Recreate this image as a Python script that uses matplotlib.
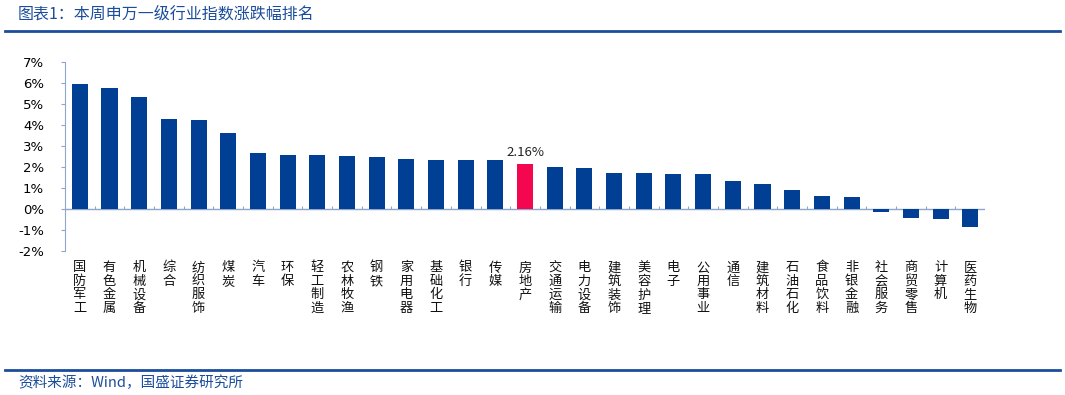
import matplotlib
matplotlib.use("Agg")
import matplotlib.pyplot as plt
from matplotlib.lines import Line2D

plt.rcParams['font.family'] = ['Noto Sans CJK SC', 'DejaVu Sans']

# 申万一级行业本周涨跌幅 (%)
industries = ['国防军工', '有色金属', '机械设备', '综合', '纺织服饰', '煤炭', '汽车', '环保',
              '轻工制造', '农林牧渔', '钢铁', '家用电器', '基础化工', '银行', '传媒', '房地产',
              '交通运输', '电力设备', '建筑装饰', '美容护理', '电子', '公用事业', '通信',
              '建筑材料', '石油石化', '食品饮料', '非银金融', '社会服务', '商贸零售', '计算机',
              '医药生物']
changes = [5.95, 5.76, 5.33, 4.29, 4.24, 3.62, 2.67, 2.57,
           2.57, 2.52, 2.48, 2.37, 2.32, 2.32, 2.32, 2.16,
           1.99, 1.94, 1.73, 1.70, 1.68, 1.65, 1.32,
           1.21, 0.90, 0.62, 0.57, -0.13, -0.41, -0.46,
           -0.87]
highlight = '房地产'
yticks = [-2, -1, 0, 1, 2, 3, 4, 5, 6, 7]

blue = '#003f94'
pink = '#f5074f'
axis_col = '#8ea6cc'

fig = plt.figure(figsize=(10.65, 3.95), dpi=100)
ax = fig.add_axes([0.061, 0.3646, 0.864, 0.4785])

x = list(range(len(industries)))
colors = [pink if n == highlight else blue for n in industries]
bars = ax.bar(x, changes, width=0.54, color=colors, zorder=2)

# 高亮标注
hi = industries.index(highlight)
ax.text(hi, changes[hi] + 0.2, f'{changes[hi]:.2f}%', ha='center', va='bottom',
        fontsize=9.5, color='#222222')

ax.set_xlim(-0.5, len(industries) - 0.5)
ax.set_ylim(-2, 7)
ax.set_yticks(yticks)
ax.set_yticklabels([f'{v}%' for v in yticks], fontsize=9.5, family='DejaVu Sans')
ax.tick_params(axis='y', length=3, color=axis_col, pad=12)

for s in ['top', 'right', 'bottom']:
    ax.spines[s].set_visible(False)
ax.spines['left'].set_color(axis_col)

# 零轴及分隔刻度
ax.axhline(0, color=axis_col, lw=1, zorder=1)
sep = [i - 0.5 for i in range(len(industries) + 1)]
ax.vlines(sep[1:], 0, 0.12, color=axis_col, lw=0.8, zorder=1)

ax.set_xticks([])
for i, name in enumerate(industries):
    ax.text(i, -2.5, '\n'.join(name), ha='center', va='top', fontsize=9.5,
            linespacing=1.05, color='#111111')

# 标题与来源
fig.text(0.017, 0.965, '图表1：本周申万一级行业指数涨跌幅排名', fontsize=11.5,
         color='#1c4d9c', style='italic', va='center')
fig.add_artist(Line2D([0.005, 0.995], [0.921, 0.921], color='#1c4d9c', lw=2))
fig.add_artist(Line2D([0.005, 0.995], [0.063, 0.063], color='#1c4d9c', lw=2))
fig.text(0.017, 0.032, '资料来源：Wind，国盛证券研究所', fontsize=10.5,
         color='#1c4d9c', style='italic', va='center')

fig.savefig('out.png', dpi=100)
